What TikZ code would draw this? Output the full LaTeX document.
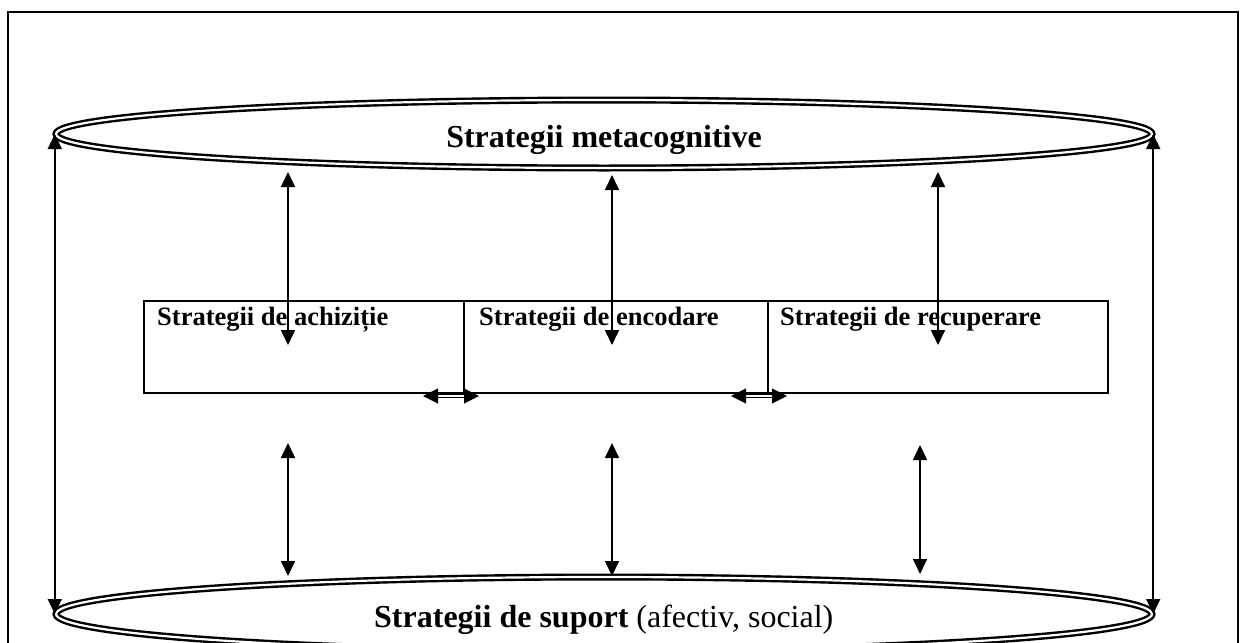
\documentclass[tikz,border=0pt]{standalone}
\usepackage{fontspec}
\setmainfont{Liberation Serif}
\usetikzlibrary{shapes.geometric,arrows.meta}
\begin{document}
\begin{tikzpicture}[x=1pt,y=-1pt,
  ell/.style={draw,ellipse,line width=2.4pt,double,double distance=2.2pt,inner sep=0pt},
  cell/.style={draw,line width=2pt,inner sep=0pt,anchor=north west},
  big/.style={font=\fontsize{32}{38}\selectfont,inner sep=0pt,anchor=base},
  lab/.style={font=\fontsize{26.5}{31}\selectfont\bfseries,inner sep=0pt,anchor=base west},
  arr/.style={line width=1.6pt,{Triangle[length=15pt,width=14pt]}-{Triangle[length=15pt,width=14pt]}},
  harr/.style={line width=1pt,double distance=1.6pt,{Triangle[length=15pt,width=15pt]}-{Triangle[length=15pt,width=15pt]}}
]
\useasboundingbox (0,0) rectangle (1246,642);
\clip (0,0) rectangle (1246,642);
% frame
\draw[line width=1.6pt] (8,660) -- (8,12) -- (1238,12) -- (1238,660);
% ellipses
\node[ell,minimum width=1096pt,minimum height=68pt] (meta) at (604,134) {};
\node[ell,minimum width=1096pt,minimum height=74pt] (sup) at (604,614) {};
\node[big] (metat) at (604,147) {\bfseries Strategii metacognitive};
\node[big,anchor=base west] (supt) at (374,627) {\textbf{Strategii de suport} (afectiv, social)};
% boxes
\node[cell,minimum width=320pt,minimum height=92pt] (b1) at (143,300) {};
\node[cell,minimum width=304pt,minimum height=92pt] (b2) at (463,300) {};
\node[cell,minimum width=340pt,minimum height=92pt] (b3) at (767,300) {};
\node[lab] (l1) at (157,325) {Strategii de achiziție};
\node[lab] (l2) at (479,325) {Strategii de encodare};
\node[lab] (l3) at (780,325) {Strategii de recuperare};
% side arrows
\draw[arr] (meta.west) -- (sup.west);
\draw[arr] (meta.east) -- (sup.east);
% top arrows
\coordinate (t1a) at (288,172); \coordinate (t1b) at (288,345);
\coordinate (t2a) at (612,175); \coordinate (t2b) at (612,345);
\coordinate (t3a) at (938,172); \coordinate (t3b) at (938,345);
\draw[arr] (t1a) -- (t1b);
\draw[arr] (t2a) -- (t2b);
\draw[arr] (t3a) -- (t3b);
% bottom arrows
\coordinate (u1a) at (288,443); \coordinate (u1b) at (288,576);
\coordinate (u2a) at (612,443); \coordinate (u2b) at (612,576);
\coordinate (u3a) at (920,445); \coordinate (u3b) at (920,574);
\draw[arr] (u1a) -- (u1b);
\draw[arr] (u2a) -- (u2b);
\draw[arr] (u3a) -- (u3b);
% small horizontal arrows
\coordinate (h1a) at (423,396); \coordinate (h1b) at (479,396);
\coordinate (h2a) at (731,396); \coordinate (h2b) at (787,396);
\draw[harr] (h1a) -- (h1b);
\draw[harr] (h2a) -- (h2b);
\end{tikzpicture}
\end{document}
